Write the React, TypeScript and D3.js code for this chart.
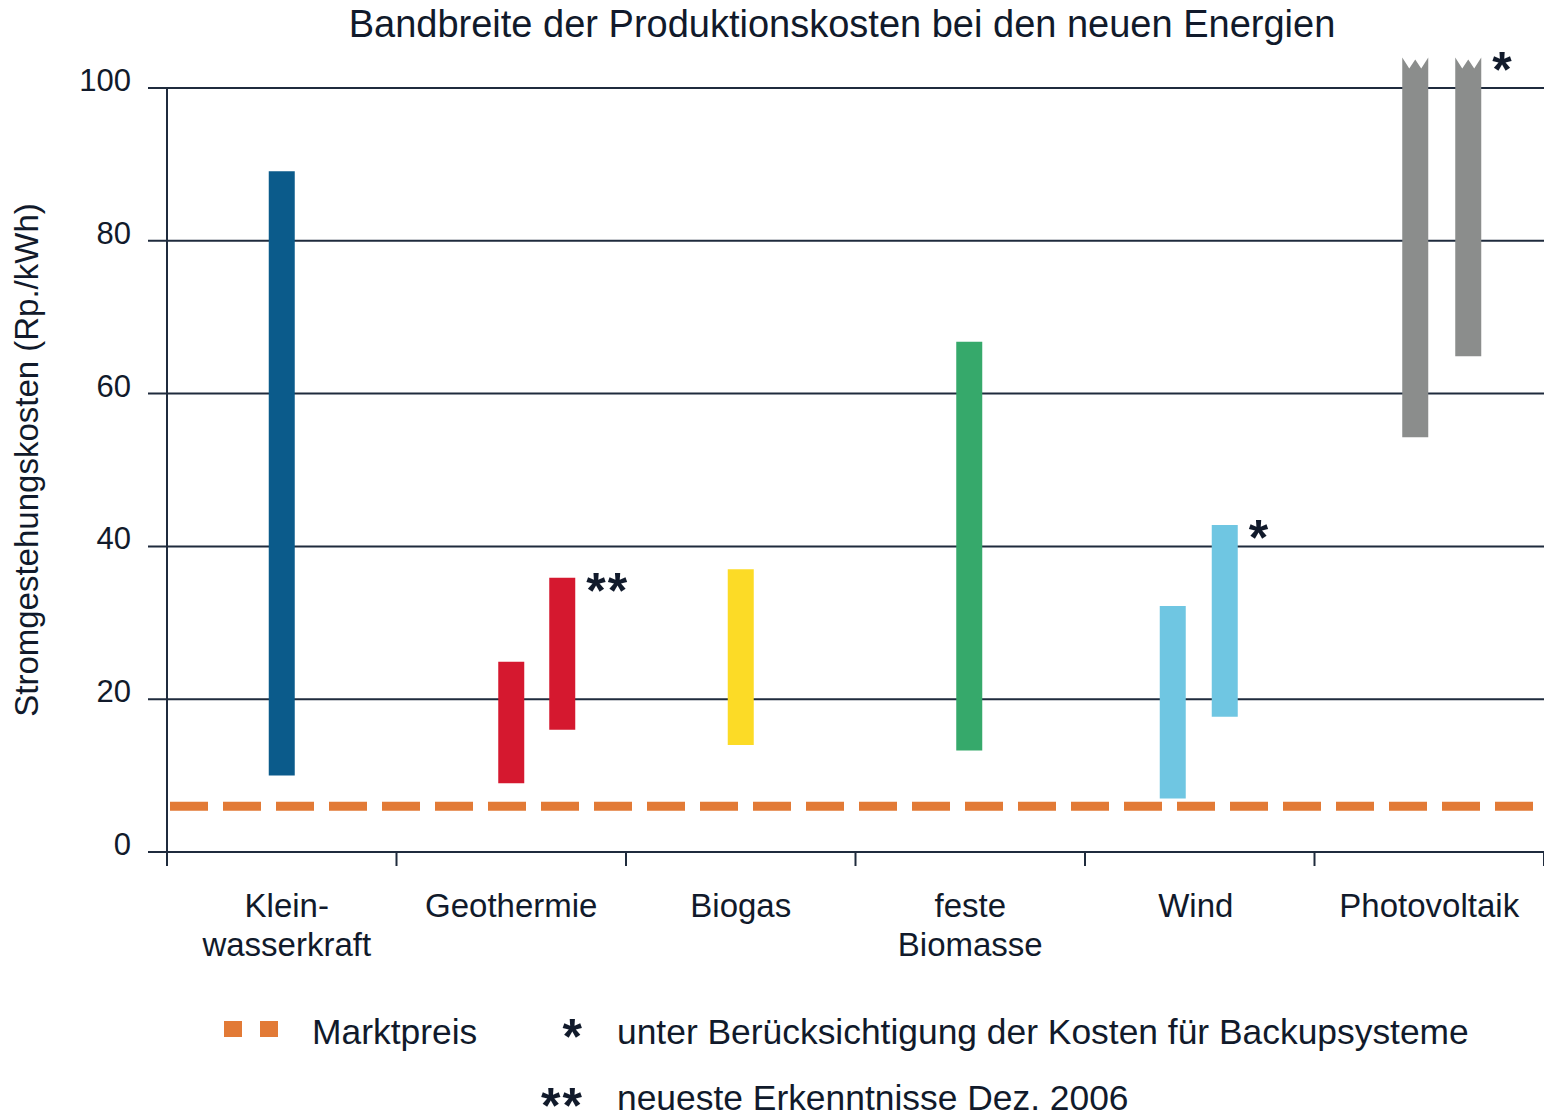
import React from "react";
import * as d3 from "d3";

const title = "Bandbreite der Produktionskosten bei den neuen Energien";
const yAxisTitle = "Stromgestehungskosten (Rp./kWh)";
const categories = ["Klein-\nwasserkraft", "Geothermie", "Biogas", "feste\nBiomasse", "Wind", "Photovoltaik"];
const yTicks = [0, 20, 40, 60, 80, 100];

// range bars
const barCategory = [0, 1, 1, 2, 3, 4, 4, 5, 5];
const barLow = [10, 9, 16, 14, 13.3, 7, 17.7, 54.3, 64.9];
const barHigh = [89.1, 24.9, 35.9, 37, 66.8, 32.2, 42.8, 104, 104];
const barBroken = [false, false, false, false, false, false, false, true, true];
const barMark = ["", "", "**", "", "", "", "*", "", "*"];
const barColor = ["#0b5b8b", "#d5182f", "#d5182f", "#fcdb26", "#36a96b", "#6fc6e2", "#6fc6e2", "#8b8d8c", "#8b8d8c"];

const marketPrice = 6;

const legendMarket = "Marktpreis";
const legendNotes = [
  { mark: "*", text: "unter Berücksichtigung der Kosten für Backupsysteme" },
  { mark: "**", text: "neueste Erkenntnisse Dez. 2006" },
];

// layout (pixel offsets from category centre)
const barOffsets = [0, 0, 51, 0, -1, -27, 25, -14, 39];
const labelOffsets = [5, 0, 0, 0, -4, 0];

const W = 1544;
const H = 1114;
const FONT = "Arial, 'Liberation Sans', Helvetica, sans-serif";
const INK = "#111a2b";
const GRID = "#1f2b3d";
const ORANGE = "#e27a36";

export default function App() {
  const x = d3.scaleBand<number>().domain(d3.range(categories.length)).range([167, 1544]).padding(0);
  const y = d3.scaleLinear().domain([0, 100]).range([852, 88]);
  const bw = 26;

  const boundaries = d3.range(categories.length + 1).map((i) => 167 + i * x.bandwidth());

  return (
    <svg width={W} height={H} style={{ position: "absolute", left: 0, top: 0, background: "#fff" }} fontFamily={FONT}>
      <rect x={0} y={0} width={W} height={H} fill="#fff" />
      {/* title */}
      <text x={842} y={37} textAnchor="middle" fontSize={38} fill={INK}>{title}</text>

      {/* gridlines */}
      {yTicks.map((t) => (
        <line key={t} x1={148} x2={1544} y1={y(t)} y2={y(t)} stroke={GRID} strokeWidth={2} />
      ))}
      {/* y axis */}
      <line x1={167} x2={167} y1={y(100)} y2={866} stroke={GRID} strokeWidth={2} />
      {boundaries.map((b, i) => (
        <line key={i} x1={b} x2={b} y1={y(0)} y2={866} stroke={GRID} strokeWidth={2} />
      ))}
      {yTicks.map((t) => (
        <text key={t} x={131} y={y(t) + 3} textAnchor="end" fontSize={31} fill={INK}>{t}</text>
      ))}
      <text transform={`translate(38,460) rotate(-90)`} textAnchor="middle" fontSize={33} fill={INK}>{yAxisTitle}</text>

      {/* category labels */}
      {categories.map((c, i) => {
        const cx = (x(i) as number) + x.bandwidth() / 2 + labelOffsets[i];
        return (
          <text key={i} x={cx} y={917} textAnchor="middle" fontSize={33} fill={INK}>
            {c.split("\n").map((l, j) => (
              <tspan key={j} x={cx} dy={j === 0 ? 0 : 39}>{l}</tspan>
            ))}
          </text>
        );
      })}

      {/* market price */}
      <line x1={170} x2={1544} y1={y(marketPrice)} y2={y(marketPrice)} stroke={ORANGE} strokeWidth={9} strokeDasharray="38 15" />

      {/* bars */}
      {barLow.map((lo, i) => {
        const cx = (x(barCategory[i]) as number) + x.bandwidth() / 2 + barOffsets[i];
        const xl = cx - bw / 2;
        const xr = cx + bw / 2;
        const top = y(barHigh[i]);
        const bot = y(lo);
        let d: string;
        if (barBroken[i]) {
          d = `M${xl},${bot}L${xl},${top}L${xl + bw * 0.27},${top + 11}L${cx},${top + 2}L${xr - bw * 0.27},${top + 11}L${xr},${top}L${xr},${bot}Z`;
        } else {
          d = `M${xl},${bot}L${xl},${top}L${xr},${top}L${xr},${bot}Z`;
        }
        return (
          <g key={i}>
            <path d={d} fill={barColor[i]} />
            {barMark[i] && (
              <text x={xr + 11} y={top + 30} fontSize={50} fontWeight="bold" letterSpacing={2} fill={INK}>{barMark[i]}</text>
            )}
          </g>
        );
      })}

      {/* legend */}
      <rect x={224} y={1021} width={18} height={16} fill={ORANGE} />
      <rect x={260} y={1021} width={18} height={16} fill={ORANGE} />
      <text x={312} y={1044} fontSize={35.4} fill={INK}>{legendMarket}</text>
      {legendNotes.map((n, i) => (
        <g key={i}>
          <text x={584} y={1054 + i * 69} textAnchor="end" fontSize={50} fontWeight="bold" letterSpacing={2} fill={INK}>{n.mark}</text>
          <text x={617} y={1044 + i * 66} fontSize={35.4} fill={INK}>{n.text}</text>
        </g>
      ))}
    </svg>
  );
}
